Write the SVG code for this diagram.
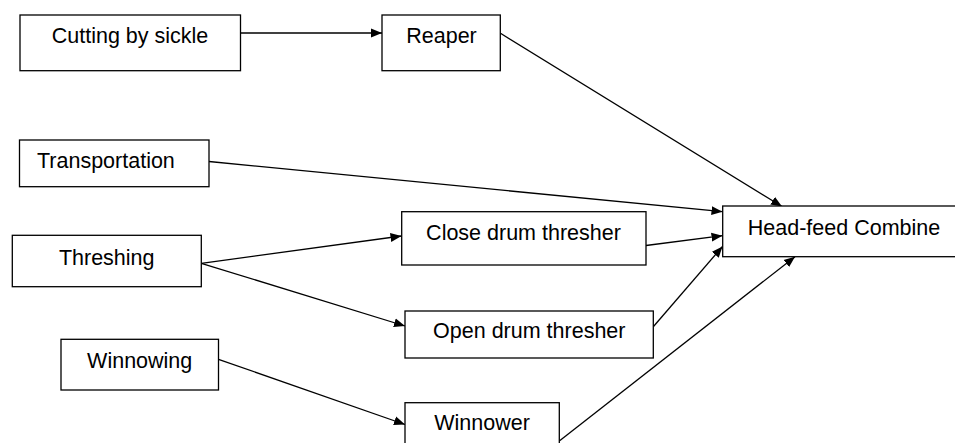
<svg xmlns="http://www.w3.org/2000/svg" width="955" height="443" viewBox="0 0 955 443">
<style>
.box{fill:#fff;stroke:#000;stroke-width:1.3}
.t{font-family:"Liberation Sans",Arial,sans-serif;font-size:21.5px;fill:#000;text-anchor:middle}
.c{stroke:#000;stroke-width:1.3;fill:none;marker-end:url(#ah)}
</style>
<defs>
<marker id="ah" markerUnits="userSpaceOnUse" markerWidth="12" markerHeight="10" refX="11" refY="5" orient="auto">
<path d="M0,0.5 L11,5 L0,9.5 Z" fill="#000"/>
</marker>
</defs>
<rect width="955" height="443" fill="#fff"/>
<g id="connectors">
<line class="c" x1="241" y1="33" x2="382" y2="33"/>
<line class="c" x1="500.5" y1="33.3" x2="782" y2="206.5"/>
<line class="c" x1="209" y1="161.5" x2="722.5" y2="211.7"/>
<line class="c" x1="201.3" y1="263.3" x2="401.5" y2="236"/>
<line class="c" x1="201.3" y1="263.3" x2="405" y2="326"/>
<line class="c" x1="646" y1="245.5" x2="722.5" y2="235.7"/>
<line class="c" x1="653.5" y1="326.5" x2="722.5" y2="246.5"/>
<line class="c" x1="218.5" y1="359.3" x2="405" y2="424.5"/>
<line class="c" x1="559.3" y1="441" x2="795" y2="256.7"/>
</g>
<g id="cutting">
<rect class="box" x="20" y="15" width="220.5" height="55.7"/>
<text class="t" x="130" y="43">Cutting by sickle</text>
</g>
<g id="reaper">
<rect class="box" x="382" y="15" width="118.3" height="55.7"/>
<text class="t" x="441.5" y="43">Reaper</text>
</g>
<g id="transportation">
<rect class="box" x="19.5" y="140" width="189.5" height="46.7"/>
<text class="t" x="37" y="168" style="text-anchor:start">Transportation</text>
</g>
<g id="threshing">
<rect class="box" x="12.3" y="235.3" width="189" height="51.4"/>
<text class="t" x="106.7" y="265">Threshing</text>
</g>
<g id="winnowing">
<rect class="box" x="61" y="339.3" width="157.5" height="50.7"/>
<text class="t" x="139.7" y="368">Winnowing</text>
</g>
<g id="close-drum">
<rect class="box" x="401.7" y="211.7" width="244.3" height="53.3"/>
<text class="t" x="523.5" y="240">Close drum thresher</text>
</g>
<g id="open-drum">
<rect class="box" x="405" y="311" width="248.3" height="47"/>
<text class="t" x="529.3" y="338">Open drum thresher</text>
</g>
<g id="winnower">
<rect class="box" x="405" y="402.7" width="154.3" height="60"/>
<text class="t" x="482" y="430">Winnower</text>
</g>
<g id="combine">
<rect class="box" x="722.7" y="206" width="243" height="50.7"/>
<text class="t" x="844" y="235">Head-feed Combine</text>
</g>
</svg>
